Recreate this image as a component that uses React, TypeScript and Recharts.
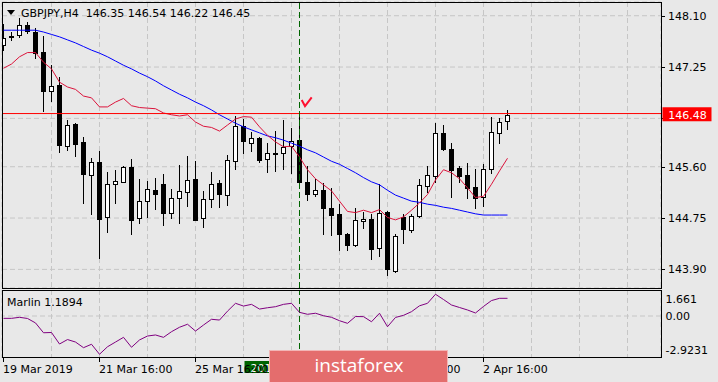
import React from 'react';
import { ComposedChart, Line, Bar, XAxis, YAxis, CartesianGrid, ReferenceLine, ReferenceDot } from 'recharts';

const FONT = 'DejaVu Sans';

// H4 bars, 19 Mar 16:00 .. 2 Apr 20:00
const opens = [
  147.62, 147.76, 147.78, 147.94, 147.83, 147.50, 146.85, 146.96, 145.95, 146.31,
  146.01, 145.47, 145.68, 144.76, 145.31, 145.35, 145.59, 144.75, 145.04, 145.21,
  145.31, 144.83, 145.08, 145.18, 145.39, 144.75, 145.06, 145.33, 145.13, 145.69,
  146.27, 146.00, 146.08, 145.72, 145.83, 145.82, 145.94, 146.04, 145.35, 145.15,
  145.21, 144.92, 144.82, 144.49, 144.30, 144.70, 144.74, 144.25, 144.85, 143.88,
  144.77, 144.56, 144.78, 145.28, 145.45, 146.16, 145.89, 145.58, 145.46, 145.26,
  145.10, 145.57, 146.15, 146.35,
];
const highs = [
  147.96, 147.83, 148.06, 148.00, 147.90, 147.76, 147.28, 147.09, 146.37, 146.32,
  146.09, 145.74, 145.86, 145.51, 145.55, 145.61, 145.73, 145.40, 145.36, 145.41,
  145.48, 145.23, 145.63, 145.78, 145.69, 145.19, 145.51, 145.38, 145.79, 146.44,
  146.39, 146.18, 146.10, 145.99, 146.19, 146.37, 146.24, 146.47, 145.62, 145.40,
  145.33, 145.25, 144.98, 144.50, 144.91, 144.85, 144.82, 145.31, 144.86, 144.49,
  144.82, 144.81, 145.40, 145.62, 146.32, 146.29, 146.00, 145.61, 145.66, 145.56,
  145.65, 146.42, 146.40, 146.54,
];
const lows = [
  147.53, 147.69, 147.74, 147.81, 147.40, 146.53, 146.69, 145.85, 145.87, 145.77,
  145.00, 144.82, 144.09, 144.52, 145.00, 145.34, 144.49, 144.66, 144.77, 144.90,
  144.64, 144.75, 144.67, 144.95, 144.71, 144.61, 144.93, 144.94, 144.97, 145.57,
  145.82, 145.86, 145.68, 145.52, 145.53, 145.57, 145.49, 145.27, 145.05, 145.12,
  144.49, 144.47, 144.22, 144.22, 144.29, 144.58, 144.08, 144.13, 143.80, 143.85,
  144.34, 144.52, 144.77, 145.18, 145.34, 145.88, 145.10, 145.35, 145.08, 144.91,
  144.95, 145.49, 146.00, 146.22,
];
const closes = [
  147.73, 147.75, 147.94, 147.84, 147.49, 146.86, 146.94, 145.96, 146.29, 145.98,
  145.48, 145.68, 144.74, 145.31, 145.36, 145.59, 144.72, 145.04, 145.23, 145.15,
  144.84, 145.09, 145.19, 145.38, 144.72, 145.06, 145.31, 145.14, 145.71, 146.27,
  146.02, 146.07, 145.71, 145.82, 145.81, 145.93, 146.02, 145.34, 145.15, 145.21,
  144.91, 144.80, 144.49, 144.31, 144.72, 144.74, 144.24, 144.83, 143.90, 144.46,
  144.57, 144.78, 145.29, 145.46, 146.16, 145.89, 145.55, 145.45, 145.24, 145.09,
  145.57, 146.17, 146.34, 146.45,
];
const fastMa = [
  147.23, 147.30, 147.42, 147.49, 147.49, 147.33, 147.22, 147.00, 146.92, 146.88,
  146.77, 146.74, 146.59, 146.59, 146.67, 146.73, 146.61, 146.58, 146.57, 146.56,
  146.49, 146.46, 146.44, 146.46, 146.34, 146.27, 146.25, 146.19, 146.29, 146.39,
  146.43, 146.42, 146.26, 146.12, 146.01, 145.93, 145.94, 145.76, 145.55, 145.40,
  145.30, 145.20, 145.03, 144.86, 144.84, 144.88, 144.84, 144.89, 144.76, 144.72,
  144.77, 144.88, 145.00, 145.14, 145.38, 145.55, 145.50, 145.40, 145.25, 145.09,
  145.11, 145.31, 145.53, 145.74,
];
const slowMa = [
  147.86, 147.86, 147.86, 147.86, 147.86, 147.83, 147.79, 147.75, 147.70, 147.65,
  147.59, 147.53, 147.48, 147.42, 147.35, 147.28, 147.22, 147.15, 147.09, 147.02,
  146.94, 146.87, 146.80, 146.74, 146.67, 146.61, 146.54, 146.46, 146.39, 146.32,
  146.26, 146.21, 146.16, 146.11, 146.08, 146.04, 145.99, 145.94, 145.88, 145.83,
  145.76, 145.69, 145.64, 145.57, 145.50, 145.42, 145.35, 145.30, 145.21, 145.13,
  145.08, 145.03, 145.01, 144.98, 144.96, 144.93, 144.91, 144.88, 144.85, 144.82,
  144.80, 144.80, 144.80, 144.80,
];
const marlin = [
  -0.18, -0.18, -0.10, -0.19, -0.53, -1.28, -1.26, -2.14, -1.80, -1.99,
  -2.42, -2.16, -2.9231, -2.35, -1.99, -1.63, -2.39, -1.83, -1.53, -1.45,
  -1.63, -1.20, -0.86, -0.63, -1.15, -0.69, -0.25, -0.31, 0.37, 0.97,
  0.76, 0.89, 0.53, 0.63, 0.71, 0.89, 0.97, 0.28, 0.13, 0.21,
  0.02, -0.10, -0.36, -0.56, -0.04, -0.05, -0.44, 0.21, -0.82, -0.11,
  0.05, 0.33, 0.78, 0.97, 1.661, 1.26, 0.84, 0.65, 0.46, 0.23,
  0.73, 1.18, 1.35, 1.35,
];

const priceTicks = [148.10, 147.25, 146.40, 145.60, 144.75, 143.90];
const hiddenPriceTick = 146.40; // sits under the bid tag
const marlinTicks = [1.661, 0, -2.9231];
const marlinTickText = ['1.661', '0.00', '-2.9231'];
const timeLabelBars = [0, 12, 24, 36, 48, 60];
const timeLabels = ['19 Mar 2019', '21 Mar 16:00', '25 Mar 16:00', '27 Mar 16:00', '29 Mar 16:00', '2 Apr 16:00'];
const gridBars = [6, 12, 18, 24, 30, 36, 42, 48, 54, 60, 66, 72, 78];

const bidPrice = 146.48;
const cursorBar = 37;
const cursorTime = '2019.03.27 20:00';

const X_DOMAIN: [number, number] = [-0.1875, 82.1875];
const PRICE_DOMAIN: [number, number] = [143.592, 148.327];
const MARLIN_DOMAIN: [number, number] = [-3.209, 1.986];

const data = opens.map((o, i) => ({
  i,
  open: o,
  high: highs[i],
  low: lows[i],
  close: closes[i],
  range: [lows[i], highs[i]],
  fast: fastMa[i],
  slow: slowMa[i],
  marlin: marlin[i],
}));

const Candle = (props: any) => {
  const { x, y, width, height, payload } = props;
  const { open, close, high, low } = payload;
  const cx = x + width / 2;
  const py = (v: number) => y + ((high - v) / (high - low)) * height;
  const top = Math.round(py(Math.max(open, close)));
  const bot = Math.round(py(Math.min(open, close)));
  const bull = close > open;
  return (
    <g shapeRendering="crispEdges">
      <line x1={cx} x2={cx} y1={Math.round(py(high))} y2={Math.round(py(low)) + 1} stroke="#000" />
      {bull ? (
        <rect x={cx - 2} y={top + 0.5} width={4} height={Math.max(bot - top, 1)} fill="#fff" stroke="#000" />
      ) : (
        <rect x={cx - 2.5} y={top} width={5} height={Math.max(bot - top + 1, 1)} fill="#000" />
      )}
    </g>
  );
};

// price axis ticks; the bid price comes last so its red tag is drawn on top
const PriceTick = ({ x, y, payload }: any) => {
  const yy = Math.round(y) + 0.5;
  if (payload.value === bidPrice) {
    return (
      <g>
        <rect x={x + 1.5} y={y - 6.3} width={49} height={14} fill="#ff0000" />
        <text x={x + 7.3} y={y + 5.5} fontSize={11} fontFamily={FONT} fill="#fff">
          {bidPrice.toFixed(2)}
        </text>
      </g>
    );
  }
  return (
    <g>
      <line x1={x} x2={x + 4} y1={yy} y2={yy} stroke="#000" />
      {payload.value !== hiddenPriceTick && (
        <text x={x + 7} y={y + 4} fontSize={11} fontFamily={FONT} fill="#000">
          {payload.value.toFixed(2)}
        </text>
      )}
    </g>
  );
};

const MarlinTick = ({ x, y, payload }: any) => {
  const k = marlinTicks.indexOf(payload.value);
  const dy = k === 0 ? 9 : k === 2 ? 0 : 4;
  return (
    <text x={x + 4.5} y={y + dy} fontSize={11} fontFamily={FONT} fill="#000">
      {marlinTickText[k]}
    </text>
  );
};

// sub chart plot bottom is at y=70 inside its svg
const AXIS_TOP = 70;
const TimeTick = ({ x, payload }: any) => {
  const k = timeLabelBars.indexOf(payload.value);
  if (k < 0) return null;
  return (
    <g>
      <line x1={x} x2={x} y1={AXIS_TOP} y2={AXIS_TOP + 4} stroke="#000" />
      <text x={x - 0.5} y={AXIS_TOP + 15.3} fontSize={11} fontFamily={FONT} fill="#000">
        {timeLabels[k]}
      </text>
    </g>
  );
};

const TimeTag = ({ viewBox }: any) => {
  const x = viewBox.x;
  const y = viewBox.y + viewBox.height;
  return (
    <g>
      <rect x={x - 55} y={y + 3} width={110} height={12} fill="#006400" />
      <text x={x} y={y + 14.3} textAnchor="middle" fontSize={11} fontFamily={FONT} fill="#fff">
        {cursorTime}
      </text>
    </g>
  );
};

const CheckMark = ({ cx, cy }: any) => (
  <path
    d={`M${cx - 4.8},${cy - 2} L${cx - 1.5},${cy + 4} L${cx + 5.2},${cy - 4.7}`}
    stroke="#ff1030"
    strokeWidth={2}
    fill="none"
  />
);

export default function App() {
  return (
    <div style={{ position: 'absolute', left: 0, top: 0, width: 718, height: 382, background: '#e8e8e8', overflow: 'hidden' }}>
      <div style={{ position: 'absolute', left: 0, top: 0 }}>
        <ComposedChart width={718} height={289} data={data} margin={{ top: 2, right: 0, bottom: 1, left: 2 }}>
          <CartesianGrid stroke="#c6c6c6" strokeDasharray="5 3" />
          <XAxis dataKey="i" type="number" domain={X_DOMAIN} ticks={gridBars} interval={0} hide allowDataOverflow />
          <YAxis
            orientation="right"
            width={57}
            domain={PRICE_DOMAIN}
            ticks={[...priceTicks, bidPrice]}
            interval={0}
            axisLine={false}
            tickLine={false}
            tickSize={0}
            tickMargin={0}
            tick={<PriceTick />}
            allowDataOverflow
          />
          <Bar dataKey="range" barSize={5} shape={<Candle />} isAnimationActive={false} />
          <Line dataKey="slow" stroke="#0000ff" strokeWidth={1} dot={false} isAnimationActive={false} />
          <Line dataKey="fast" stroke="#dc143c" strokeWidth={1} dot={false} isAnimationActive={false} />
          <ReferenceLine y={bidPrice} stroke="#ff0000" />
          <ReferenceLine x={cursorBar} stroke="#006400" strokeDasharray="6 3" />
          <ReferenceDot x={cursorBar + 0.875} y={146.67} shape={<CheckMark />} />
        </ComposedChart>
      </div>
      <div style={{ position: 'absolute', left: 0, top: 288 }}>
        <ComposedChart width={718} height={94} data={data} margin={{ top: 2, right: 0, bottom: 0, left: 2 }}>
          <CartesianGrid xAxisId="g" horizontal={false} stroke="#c6c6c6" strokeDasharray="5 3" />
          <XAxis xAxisId="g" dataKey="i" type="number" domain={X_DOMAIN} ticks={gridBars} interval={0} hide allowDataOverflow />
          <XAxis
            xAxisId="t"
            dataKey="i"
            type="number"
            domain={X_DOMAIN}
            ticks={timeLabelBars}
            interval={0}
            height={24}
            axisLine={false}
            tickLine={false}
            tick={<TimeTick />}
            allowDataOverflow
          />
          <YAxis
            orientation="right"
            width={57}
            domain={MARLIN_DOMAIN}
            ticks={marlinTicks}
            interval={0}
            axisLine={false}
            tickLine={false}
            tickSize={0}
            tickMargin={0}
            tick={<MarlinTick />}
            allowDataOverflow
          />
          <ReferenceLine xAxisId="g" y={0} stroke="#c6c6c6" strokeDasharray="5 3" />
          <ReferenceLine xAxisId="g" x={cursorBar} stroke="#006400" strokeDasharray="6 3" label={<TimeTag />} />
          <Line xAxisId="g" dataKey="marlin" stroke="#800080" strokeWidth={1} dot={false} isAnimationActive={false} />
        </ComposedChart>
      </div>
      <svg width={718} height={382} style={{ position: 'absolute', left: 0, top: 0, pointerEvents: 'none' }}>
        <rect x={2.5} y={2.5} width={659} height={286} fill="none" stroke="#000" />
        <rect x={2.5} y={290.5} width={659} height={67} fill="none" stroke="#000" />
        <polygon points="7,10 15,10 11,15" fill="#000" />
        <text x={21} y={17.3} fontSize={11} fontFamily={FONT} fill="#000" style={{ whiteSpace: 'pre' }}>
          {'GBPJPY,H4  146.35 146.54 146.22 146.45'}
        </text>
        <text x={7} y={305.5} fontSize={11} fontFamily={FONT} fill="#000">
          Marlin 1.1894
        </text>
        <rect x={269.5} y={350.5} width={178} height={33} fill="#e46d6d" stroke="#f2b6b6" />
        <text x={359} y={372} textAnchor="middle" fontSize={19} fontFamily="Open Sans" fill="#fff">
          instaforex
        </text>
      </svg>
    </div>
  );
}
